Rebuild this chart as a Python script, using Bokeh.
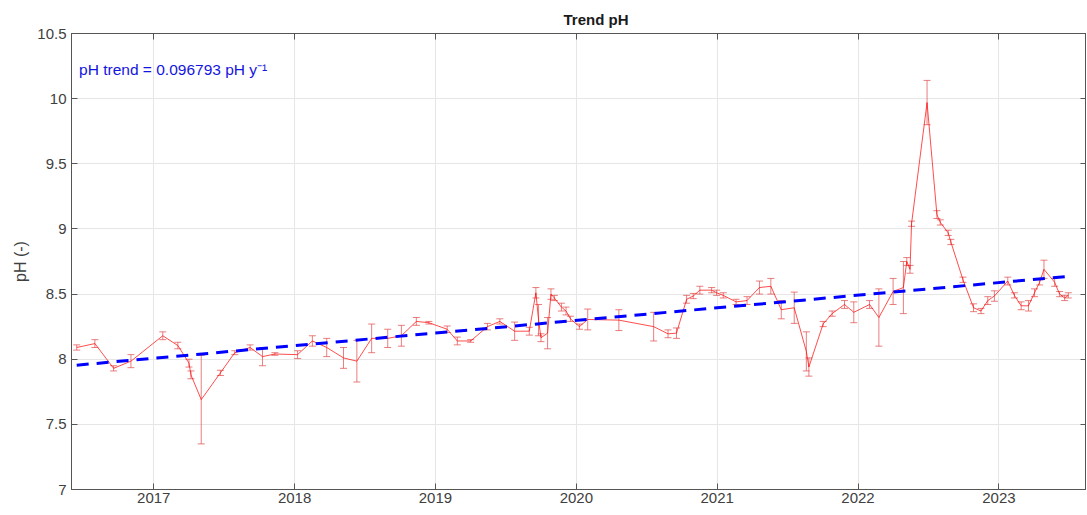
from bokeh.plotting import figure
from bokeh.models import (ColumnDataSource, Whisker, TeeHead, LinearAxis, Label,
                          Range1d, FixedTicker, CustomJSTickFormatter)
from bokeh.embed import file_html
from bokeh.resources import INLINE

# ---- data (decimal year, pH, error) ----
years = [2016.453, 2016.582, 2016.715, 2016.838, 2017.064, 2017.171, 2017.250, 2017.264,
         2017.337, 2017.473, 2017.575, 2017.684, 2017.772, 2017.860, 2018.021, 2018.126,
         2018.228, 2018.347, 2018.442, 2018.547, 2018.661, 2018.758, 2018.864, 2018.953,
         2019.083, 2019.155, 2019.250, 2019.369, 2019.457, 2019.562, 2019.666, 2019.713,
         2019.732, 2019.749, 2019.796, 2019.820, 2019.844, 2019.894, 2019.927, 2019.958,
         2020.022, 2020.081, 2020.302, 2020.549, 2020.651, 2020.711, 2020.783, 2020.830,
         2020.877, 2020.961, 2020.996, 2021.043, 2021.134, 2021.212, 2021.300, 2021.381,
         2021.455, 2021.547, 2021.633, 2021.651, 2021.752, 2021.816, 2021.904, 2021.970,
         2022.082, 2022.148, 2022.249, 2022.322, 2022.346, 2022.369, 2022.380, 2022.490,
         2022.560, 2022.584, 2022.640, 2022.659, 2022.745, 2022.820, 2022.873, 2022.921,
         2022.968, 2023.063, 2023.110, 2023.158, 2023.210, 2023.253, 2023.289, 2023.320,
         2023.396, 2023.431, 2023.467, 2023.493]
ph = [8.09, 8.12, 7.93, 7.985, 8.18, 8.105, 7.97, 7.88,
      7.69, 7.895, 8.05, 8.09, 8.02, 8.04, 8.035, 8.14,
      8.09, 8.01, 7.985, 8.16, 8.16, 8.18, 8.29, 8.28,
      8.23, 8.14, 8.14, 8.25, 8.29, 8.215, 8.215, 8.51,
      8.30, 8.165, 8.20, 8.50, 8.47, 8.40, 8.37, 8.31,
      8.25, 8.305, 8.30, 8.25, 8.195, 8.20, 8.46, 8.485,
      8.53, 8.53, 8.51, 8.49, 8.44, 8.45, 8.55, 8.56,
      8.38, 8.395, 8.06, 7.94, 8.27, 8.35, 8.42, 8.36,
      8.42, 8.32, 8.52, 8.55, 8.75, 8.69, 9.04, 9.97,
      9.11, 9.05, 8.97, 8.90, 8.61, 8.395, 8.37, 8.45,
      8.485, 8.60, 8.49, 8.41, 8.41, 8.51, 8.59, 8.69,
      8.59, 8.50, 8.47, 8.49]
ph_err = [0.02, 0.03, 0.02, 0.05, 0.03, 0.025, 0.03, 0.03,
          0.34, 0.02, 0.015, 0.02, 0.07, 0.01, 0.03, 0.04,
          0.07, 0.08, 0.16, 0.11, 0.07, 0.08, 0.03, 0.01,
          0.025, 0.03, 0.01, 0.025, 0.02, 0.07, 0.03, 0.04,
          0.12, 0.03, 0.12, 0.04, 0.02, 0.03, 0.03, 0.02,
          0.02, 0.08, 0.08, 0.11, 0.03, 0.04, 0.03, 0.02,
          0.03, 0.02, 0.02, 0.02, 0.02, 0.03, 0.05, 0.06,
          0.07, 0.12, 0.15, 0.07, 0.02, 0.02, 0.03, 0.08,
          0.03, 0.22, 0.10, 0.20, 0.03, 0.03, 0.02, 0.17,
          0.03, 0.02, 0.02, 0.02, 0.02, 0.03, 0.02, 0.03,
          0.04, 0.03, 0.02, 0.03, 0.04, 0.03, 0.02, 0.07,
          0.03, 0.02, 0.02, 0.02]

trend_slope = 0.096793        # pH per year
trend_t0 = 2016.46
trend_v0 = 7.955

x_ticks = [2017, 2018, 2019, 2020, 2021, 2022, 2023]
y_ticks = [7, 7.5, 8, 8.5, 9, 9.5, 10, 10.5]

FONT = "Liberation Sans"
TXT = "#404040"
AX = "#555555"

src = ColumnDataSource(dict(
    x=years, y=ph,
    lo=[v - e for v, e in zip(ph, ph_err)],
    hi=[v + e for v, e in zip(ph, ph_err)],
))

trend_x = [years[0], years[-1]]
trend_y = [trend_v0 + trend_slope * (t - trend_t0) for t in trend_x]

p = figure(width=1086, height=513, output_backend="svg", toolbar_location=None,
           x_range=Range1d(2016.416, 2023.622), y_range=Range1d(7, 10.5),
           min_border_left=71, min_border_right=0, min_border_top=33, min_border_bottom=24,
           title="Trend pH")
p.background_fill_color = "white"
p.border_fill_color = "white"
p.outline_line_color = AX
p.outline_line_width = 1

p.title.align = "left"
p.title.offset = 492
p.title.text_font = FONT
p.title.text_font_size = "15px"
p.title.text_font_style = "bold"
p.title.text_color = "#1a1a1a"
p.title.standoff = 11

# grids
for g in (p.xgrid, p.ygrid):
    g.grid_line_color = "#e6e6e6"
    g.grid_line_width = 1
p.xgrid.ticker = FixedTicker(ticks=x_ticks)
p.ygrid.ticker = FixedTicker(ticks=y_ticks)

# axes
def style_axis(ax, ticks):
    ax.ticker = FixedTicker(ticks=ticks)
    ax.major_tick_in = 6
    ax.major_tick_out = 0
    ax.minor_tick_line_color = None
    ax.axis_line_color = AX
    ax.major_tick_line_color = AX
    ax.major_label_text_font = FONT
    ax.major_label_text_font_size = "15px"
    ax.major_label_text_color = TXT

style_axis(p.xaxis[0], x_ticks)
style_axis(p.yaxis[0], y_ticks)
p.xaxis[0].major_label_standoff = 3
p.yaxis[0].major_label_standoff = 5
p.yaxis[0].axis_label = "pH (-)"
p.yaxis[0].axis_label_text_font = FONT
p.yaxis[0].axis_label_text_font_size = "16px"
p.yaxis[0].axis_label_text_font_style = "normal"
p.yaxis[0].axis_label_text_color = TXT
p.yaxis[0].axis_label_standoff = 5

blank = CustomJSTickFormatter(code="return ''")
top_ax = LinearAxis(formatter=blank)
style_axis(top_ax, x_ticks)
top_ax.major_label_standoff = 0
top_ax.major_label_text_font_size = "1px"
right_ax = LinearAxis(formatter=blank)
style_axis(right_ax, y_ticks)
right_ax.major_label_standoff = 0
right_ax.major_label_text_font_size = "1px"
p.add_layout(top_ax, "above")
p.add_layout(right_ax, "right")

# data line + error bars
p.line("x", "y", source=src, line_color="red", line_width=1, line_alpha=0.7)
wh = Whisker(source=src, base="x", lower="lo", upper="hi", dimension="height",
             line_color="#e04848", line_width=1, line_alpha=0.7,
             upper_head=TeeHead(size=7, line_color="#e04848", line_alpha=0.7, line_width=1),
             lower_head=TeeHead(size=7, line_color="#e04848", line_alpha=0.7, line_width=1))
p.add_layout(wh)

# trend
p.line(trend_x, trend_y, line_color="blue", line_width=3, line_dash="12 8")

lab = Label(x=2016.47, y=10.22, text="pH trend = 0.096793 pH y\u207b\u00b9",
            text_font=FONT, text_font_size="15.5px", text_color="#1414e0",
            text_baseline="middle", text_align="left")
p.add_layout(lab)

open("out.html", "w").write(file_html(p, INLINE))
